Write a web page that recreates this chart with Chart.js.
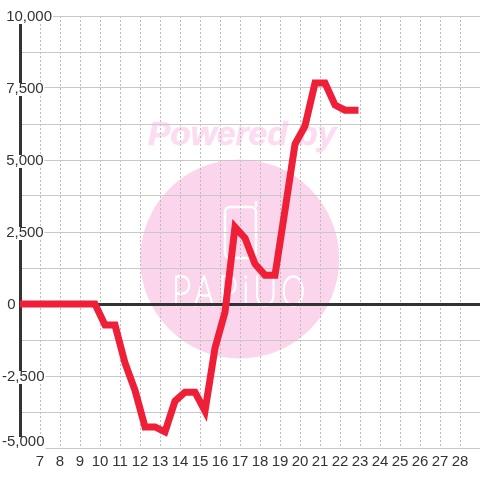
<!DOCTYPE html>
<html>
<head>
<meta charset="utf-8">
<style>
  html, body { margin: 0; padding: 0; background: #fff; }
  canvas { display: block; }
</style>
<script src="https://cdn.jsdelivr.net/npm/chart.js@4"></script>
</head>
<body>
<canvas id="lineChart" width="480" height="480"></canvas>
<script>
const hours = [5.75, 6.25, 6.75, 7.25, 7.75, 8.25, 8.75, 9.25, 9.75, 10.25, 10.75, 11.25, 11.75, 12.25, 12.75, 13.25, 13.75, 14.25, 14.75, 15.25, 15.75, 16.25, 16.75, 17.25, 17.75, 18.25, 18.75, 19.25, 19.75, 20.25, 20.75, 21.25, 21.75, 22.25, 22.75];
const amounts = [0, 0, 0, 0, 0, 0, 0, 0, 0, -730, -730, -2050, -3000, -4270, -4270, -4440, -3370, -3060, -3060, -3715, -1530, -280, 2670, 2290, 1390, 1000, 1000, 3260, 5550, 6180, 7670, 7670, 6910, 6730, 6730];
const xTickLabels = [7, 8, 9, 10, 11, 12, 13, 14, 15, 16, 17, 18, 19, 20, 21, 22, 23, 24, 25, 26, 27, 28];
const yTickLabels = [10000, 7500, 5000, 2500, 0, -2500, -5000];

// watermark sits behind the grid
const watermark = {
  id: 'watermark',
  beforeDraw(chart) {
    const c = chart.ctx;
    c.save();
    c.fillStyle = '#fbd5ec';
    c.beginPath();
    c.arc(239.7, 259, 99.5, 0, Math.PI * 2);
    c.fill();

    c.fillStyle = '#fcdcf0';
    c.strokeStyle = '#fcdcf0';
    c.lineWidth = 0.6;
    c.font = 'italic bold 33.5px "Liberation Sans"';
    c.textAlign = 'left';
    c.textBaseline = 'alphabetic';
    c.fillText('Powered by', 148, 145);
    c.strokeText('Powered by', 148, 145);

    c.strokeStyle = '#fff';
    c.lineWidth = 2.5;
    c.beginPath();
    c.roundRect(225, 207, 31, 51, 5);
    c.moveTo(256, 207);
    c.lineTo(256, 201);
    c.stroke();

    c.fillStyle = '#fff';
    c.lineWidth = 1.5;
    c.lineJoin = 'round';
    c.font = '100 41px Inter';
    c.letterSpacing = '5px';
    c.translate(172, 306);
    c.scale(0.8, 1);
    c.fillText('PAPiUO', 0, 0);
    c.strokeText('PAPiUO', 0, 0);
    c.restore();
  }
};

// nudge y labels: all sit 1px lower, the bottom one sits above its line
// (backdrop coordinates are relative to the tick position)
const yLabelNudge = {
  id: 'yLabelNudge',
  beforeDraw(chart) {
    chart.scales.y.getLabelItems().forEach((item) => {
      if (item.nudged || !item.label) return;
      item.nudged = true;
      const b = item.options.backdrop;
      if (item.label === '-5,000') {
        item.textOffset -= 6;
        b.top = -11;
        b.height = 13;
      } else {
        item.textOffset += 1;
        if (b) {
          b.top = -5;
          b.height = 13;
        }
      }
      if (item.label === ' 0') item.options.translation[0] += 1;
    });
  }
};

const ctx = document.getElementById('lineChart').getContext('2d');

new Chart(ctx, {
  type: 'line',
  data: {
    datasets: [
      {
        data: hours.map((h, i) => ({ x: h, y: amounts[i] })),
        borderColor: '#f01f38',
        borderWidth: 7,
        borderCapStyle: 'square',
        pointRadius: 0,
        tension: 0
      }
    ]
  },
  options: {
    responsive: false,
    animation: false,
    layout: { padding: { top: 16 } },
    plugins: {
      legend: { display: false },
      tooltip: { enabled: false }
    },
    scales: {
      x: {
        type: 'linear',
        min: 6,
        max: 29,
        afterFit: (scale) => {
          scale.height = 32;
          scale.paddingLeft = 0;
          scale.paddingRight = 0;
        },
        border: { display: false, dash: [2, 2] },
        grid: {
          color: '#bbb',
          drawTicks: false
        },
        ticks: {
          stepSize: 1,
          autoSkip: false,
          maxRotation: 0,
          padding: 5,
          z: 1,
          color: '#333',
          font: { family: '"Liberation Sans"', size: 15 },
          callback: (v) => (xTickLabels.includes(v) ? String(v) : '')
        }
      },
      y: {
        min: -5000,
        max: 10000,
        afterFit: (scale) => {
          scale.width = 20;
          scale.paddingTop = 0;
          scale.paddingBottom = 0;
        },
        border: { display: true, color: '#333', width: 3 },
        grid: {
          color: (c) => (c.tick && c.tick.value === 0 ? '#333' : '#c8c8c8'),
          lineWidth: (c) => (c.tick && c.tick.value === 0 ? 3 : 1),
          drawTicks: false
        },
        ticks: {
          stepSize: 1250,
          autoSkip: false,
          mirror: true,
          padding: -18,
          color: '#333',
          font: { family: '"Liberation Sans"', size: 15 },
          showLabelBackdrop: (c) => yTickLabels.includes(c.tick.value) && c.tick.value !== 0,
          backdropColor: '#fff',
          backdropPadding: 1,
          callback: (v) => {
            if (!yTickLabels.includes(v)) return '';
            const text = v.toLocaleString('en-US');
            return v < 0 ? text : ' ' + text;
          }
        }
      }
    }
  },
  plugins: [watermark, yLabelNudge]
});
</script>
</body>
</html>
